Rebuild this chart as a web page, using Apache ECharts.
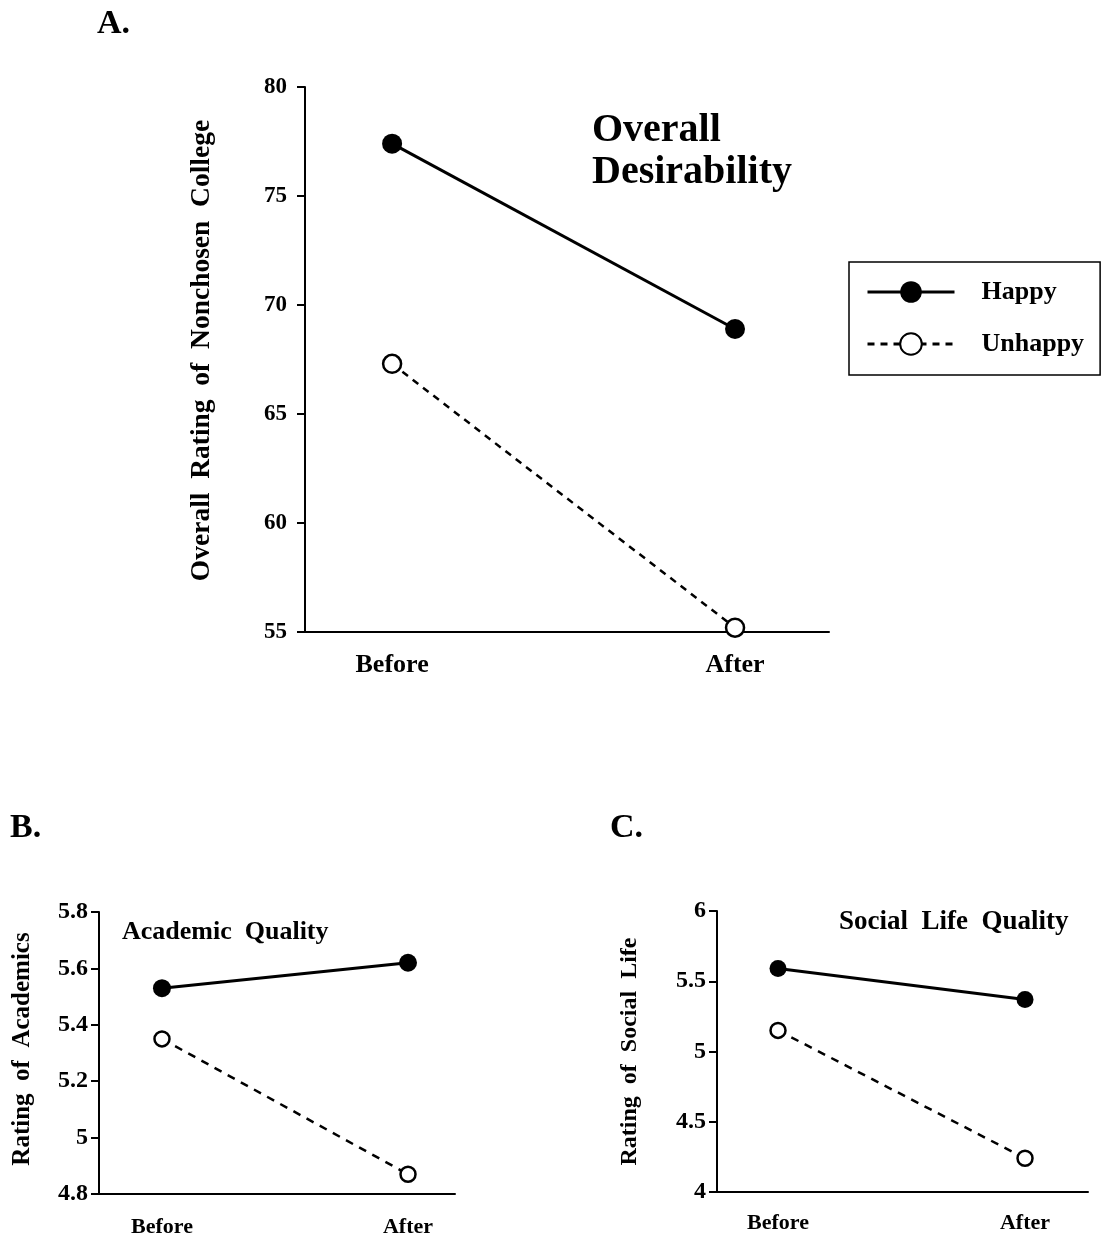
<!DOCTYPE html>
<html>
<head>
<meta charset="utf-8">
<script src="https://cdn.jsdelivr.net/npm/echarts@6/dist/echarts.min.js"></script>
<style>
html,body{margin:0;padding:0;background:#fff;}
#chart{width:1103px;height:1238px;}
</style>
</head>
<body>
<div id="chart"></div>
<script>
// ---- data ----
const categories = ['Before', 'After'];
const seriesNames = ['Happy', 'Unhappy'];

const overallHappy = [77.4, 68.9];
const overallUnhappy = [67.3, 55.2];
const overallTicks = [55, 60, 65, 70, 75, 80];

const academicHappy = [5.53, 5.62];
const academicUnhappy = [5.35, 4.87];
const academicTicks = [4.8, 5.0, 5.2, 5.4, 5.6, 5.8];

const socialHappy = [5.59, 5.37];
const socialUnhappy = [5.15, 4.24];
const socialTicks = [4, 4.5, 5, 5.5, 6];

const panelTitles = ['Overall\nDesirability', 'Academic  Quality', 'Social  Life  Quality'];
const yNames = ['Overall  Rating  of  Nonchosen  College', 'Rating  of  Academics', 'Rating  of  Social  Life'];
const panelLetters = ['A.', 'B.', 'C.'];

// ---- chart ----
const FONT = '"Liberation Serif", "Times New Roman", serif';
const chart = echarts.init(document.getElementById('chart'), null, {renderer: 'canvas'});

const toPts = arr => arr.map((v, i) => [i, v]);

function xAxis(idx, min, max, fs, margin) {
  return {
    type: 'value', gridIndex: idx, min: min, max: max,
    axisLine: {show: true, onZero: false, lineStyle: {color: '#000', width: 2}},
    axisTick: {show: false},
    splitLine: {show: false},
    axisLabel: {
      customValues: categories.map((c, i) => i),
      formatter: v => categories[Math.round(v)] || '',
      color: '#000', fontFamily: FONT, fontWeight: 'bold', fontSize: fs, margin: margin
    }
  };
}
function yAxis(idx, ticks, name, fs, nfs, margin, nameGap, namePad) {
  return {
    type: 'value', gridIndex: idx,
    min: ticks[0], max: ticks[ticks.length - 1],
    interval: ticks[1] - ticks[0],
    name: name, nameLocation: 'middle', nameRotate: 90, nameGap: nameGap,
    nameTextStyle: {color: '#000', fontFamily: FONT, fontWeight: 'bold', fontSize: nfs, padding: namePad || 0},
    axisLine: {show: true, onZero: false, lineStyle: {color: '#000', width: 2}},
    axisTick: {show: true, inside: false, length: 8, lineStyle: {color: '#000', width: 2}},
    splitLine: {show: false},
    axisLabel: {
      color: '#000', fontFamily: FONT, fontWeight: 'bold', fontSize: fs, margin: margin,
      formatter: v => String(Math.round(v * 100) / 100)
    }
  };
}
function happy(idx, data, size) {
  return {
    name: seriesNames[0], type: 'line', xAxisIndex: idx, yAxisIndex: idx,
    data: toPts(data), symbol: 'circle', symbolSize: size,
    itemStyle: {color: '#000'},
    lineStyle: {color: '#000', width: 3, type: 'solid'},
    z: 3
  };
}
function unhappy(idx, data, size, dash) {
  return {
    name: seriesNames[1], type: 'line', xAxisIndex: idx, yAxisIndex: idx,
    data: toPts(data), symbol: 'circle', symbolSize: size,
    itemStyle: {color: '#fff', borderColor: '#000', borderWidth: 2.5},
    lineStyle: {color: '#000', width: 2.5, type: dash},
    z: 3
  };
}
const txt = (s, l, t, fs, lh) => ({
  text: s, left: l, top: t, padding: 0,
  textStyle: {color: '#000', fontFamily: FONT, fontWeight: 'bold', fontSize: fs, lineHeight: lh || fs * 1.1}
});

chart.setOption({
  backgroundColor: '#fff',
  animation: false,
  title: [
    txt(panelLetters[0], 97, 6, 34),
    txt(panelLetters[1], 10, 810, 34),
    txt(panelLetters[2], 610, 810, 34),
    txt(panelTitles[0], 592, 110, 40, 42),
    txt(panelTitles[1], 122, 918, 26),
    txt(panelTitles[2], 839, 907, 27)
  ],
  legend: {
    orient: 'vertical', left: 849, top: 262,
    data: seriesNames,
    itemWidth: 87, itemHeight: 27, itemGap: 26,
    padding: [17, 16, 18, 17],
    borderColor: '#000', borderWidth: 1.5,
    lineStyle: {width: 3},
    textStyle: {color: '#000', fontFamily: FONT, fontWeight: 'bold', fontSize: 26, padding: [0, 0, 0, 22]}
  },
  grid: [
    {left: 305, top: 87, width: 524, height: 545},
    {left: 99, top: 912, width: 356, height: 282},
    {left: 717, top: 911, width: 371, height: 281}
  ],
  xAxis: [
    xAxis(0, -0.254, 1.274, 26, 20),
    xAxis(1, -0.256, 1.191, 22, 22),
    xAxis(2, -0.247, 1.255, 22, 20)
  ],
  yAxis: [
    yAxis(0, overallTicks, yNames[0], 23, 27.5, 18, 89, [0, 0, 0, 18]),
    yAxis(1, academicTicks, yNames[1], 24, 25, 11, 64, [0, 0, 0, 8]),
    yAxis(2, socialTicks, yNames[2], 24, 24, 11, 75)
  ],
  series: [
    happy(0, overallHappy, 20),
    unhappy(0, overallUnhappy, 18, [7, 6]),
    happy(1, academicHappy, 18),
    unhappy(1, academicUnhappy, 15, [8, 7]),
    happy(2, socialHappy, 17),
    unhappy(2, socialUnhappy, 15, [8, 7])
  ]
});
</script>
</body>
</html>
